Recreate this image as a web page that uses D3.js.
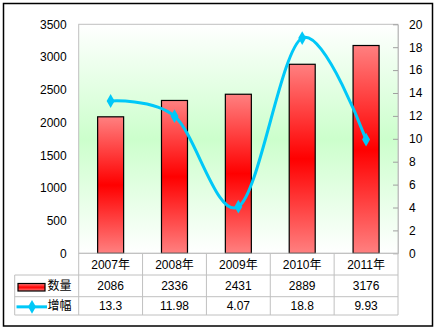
<!DOCTYPE html>
<html>
<head>
<meta charset="utf-8">
<script src="https://cdn.jsdelivr.net/npm/d3@7"></script>
<style>
html,body{margin:0;padding:0;background:#fff;}
svg{display:block;}
text{font-family:"Liberation Sans",Arial,"Noto Sans CJK SC",sans-serif;font-size:12px;fill:#000;}
</style>
</head>
<body>
<svg id="chart" width="437" height="331"></svg>
<script>
const categories = ["2007年","2008年","2009年","2010年","2011年"];
const quantity = [2086, 2336, 2431, 2889, 3176];
const growth = [13.3, 11.98, 4.07, 18.8, 9.93];
const quantityLabels = ["2086","2336","2431","2889","3176"];
const growthLabels = ["13.3","11.98","4.07","18.8","9.93"];
const leftTicks = [0,500,1000,1500,2000,2500,3000,3500];
const rightTicks = [0,2,4,6,8,10,12,14,16,18,20];
const seriesNames = ["数量","增幅"];

const svg = d3.select("#chart");
const W = 437, H = 331;
const plot = {l:78.7, t:24.3, r:398, b:253.3};
const tableRows = [253.3, 275, 296.7, 315];
const tableLeft = 14.7;
const lineColor = "#00c8f8";
const gridColor = "#c0c0c0";

const defs = svg.append("defs");
const bg = defs.append("linearGradient").attr("id","bg").attr("x1",0).attr("y1",0).attr("x2",0).attr("y2",1);
bg.append("stop").attr("offset","0%").attr("stop-color","#ffffff");
bg.append("stop").attr("offset","50%").attr("stop-color","#ccffcc");
bg.append("stop").attr("offset","100%").attr("stop-color","#ffffff");
const bar = defs.append("linearGradient").attr("id","bar").attr("x1",0).attr("y1",0).attr("x2",0).attr("y2",1);
bar.append("stop").attr("offset","0%").attr("stop-color","#ff8080");
bar.append("stop").attr("offset","50%").attr("stop-color","#ff0000");
bar.append("stop").attr("offset","100%").attr("stop-color","#ff8080");

// outer frame
svg.append("rect").attr("x",3.5).attr("y",3.5).attr("width",429).attr("height",322.5)
  .attr("fill","#fff").attr("stroke","#000").attr("stroke-width",1.5);

// plot background
svg.append("rect").attr("x",plot.l).attr("y",plot.t).attr("width",plot.r-plot.l).attr("height",plot.b-plot.t)
  .attr("fill","url(#bg)").attr("stroke",gridColor).attr("stroke-width",1);

const x = d3.scaleBand().domain(categories).range([plot.l, plot.r]);
const yL = d3.scaleLinear().domain([0,3500]).range([plot.b, plot.t]);
const yR = d3.scaleLinear().domain([0,20]).range([plot.b, plot.t]);
const barW = 26;

// left axis
const axL = svg.append("g").attr("transform",`translate(${plot.l},0)`)
  .call(d3.axisLeft(yL).tickValues(leftTicks).tickSize(0).tickPadding(12).tickFormat(d3.format("d")));
axL.select(".domain").remove();
axL.selectAll("text").style("font-size","12px").style("font-family",null).attr("fill","#000");

// right axis
const axR = svg.append("g").attr("transform",`translate(${plot.r},0)`)
  .call(d3.axisRight(yR).tickValues(rightTicks).tickSizeInner(-5).tickSizeOuter(0).tickPadding(11).tickFormat(d3.format("d")));
axR.select(".domain").attr("stroke",gridColor);
axR.selectAll(".tick line").attr("stroke","#a0a0a0");
axR.selectAll("text").style("font-size","12px").style("font-family",null).attr("fill","#000");

// bars
svg.append("g").selectAll("rect").data(quantity).join("rect")
  .attr("x",(d,i)=>x(categories[i])+(x.bandwidth()-barW)/2)
  .attr("y",d=>yL(d))
  .attr("width",barW)
  .attr("height",d=>plot.b-yL(d))
  .attr("fill","url(#bar)").attr("stroke","#000").attr("stroke-width",1.2);

// line
const cx = (i)=>x(categories[i])+x.bandwidth()/2;
const line = d3.line().x((d,i)=>cx(i)).y(d=>yR(d)).curve(d3.curveCatmullRom.alpha(0));
svg.append("path").datum(growth).attr("d",line).attr("fill","none")
  .attr("stroke",lineColor).attr("stroke-width",3).attr("stroke-linejoin","round");
const diamond = d3.symbol().type(d3.symbolDiamond).size(55);
svg.append("g").selectAll("path").data(growth).join("path")
  .attr("transform",(d,i)=>`translate(${cx(i)},${yR(d)})`)
  .attr("d",diamond).attr("fill",lineColor);

// data table
const tg = svg.append("g");
tg.append("line").attr("x1",plot.l).attr("x2",plot.r).attr("y1",tableRows[0]).attr("y2",tableRows[0]);
for (let k=1;k<tableRows.length;k++){
  tg.append("line").attr("x1",tableLeft).attr("x2",plot.r).attr("y1",tableRows[k]).attr("y2",tableRows[k]);
}
tg.append("line").attr("x1",tableLeft).attr("x2",tableLeft).attr("y1",tableRows[1]).attr("y2",tableRows[3]);
categories.forEach((c,i)=>{
  tg.append("line").attr("x1",x(c)).attr("x2",x(c)).attr("y1",tableRows[0]).attr("y2",tableRows[3]);
});
tg.append("line").attr("x1",plot.r).attr("x2",plot.r).attr("y1",tableRows[0]).attr("y2",tableRows[3]);
tg.selectAll("line").attr("stroke",gridColor).attr("stroke-width",1);

const rowMid = k => (tableRows[k]+tableRows[k+1])/2;
const rowsText = [categories, quantityLabels, growthLabels];
rowsText.forEach((arr,k)=>{
  svg.append("g").selectAll("text").data(arr).join("text")
    .attr("x",(d,i)=>cx(i)).attr("y",rowMid(k)+0.5)
    .attr("text-anchor","middle").attr("dominant-baseline","central").text(d=>d);
});

// legend keys in table
svg.append("rect").attr("x",18).attr("y",283.5).attr("width",27).attr("height",7.5)
  .attr("fill","url(#bar)").attr("stroke","#000").attr("stroke-width",1.2);
svg.append("line").attr("x1",16.5).attr("x2",47).attr("y1",rowMid(2)+1).attr("y2",rowMid(2)+1)
  .attr("stroke",lineColor).attr("stroke-width",3);
svg.append("path").attr("transform",`translate(32,${rowMid(2)+1})`).attr("d",diamond).attr("fill",lineColor);
svg.append("text").attr("x",47.5).attr("y",rowMid(1)+0.5).attr("dominant-baseline","central").text(seriesNames[0]);
svg.append("text").attr("x",47.5).attr("y",rowMid(2)+0.5).attr("dominant-baseline","central").text(seriesNames[1]);
</script>
</body>
</html>
